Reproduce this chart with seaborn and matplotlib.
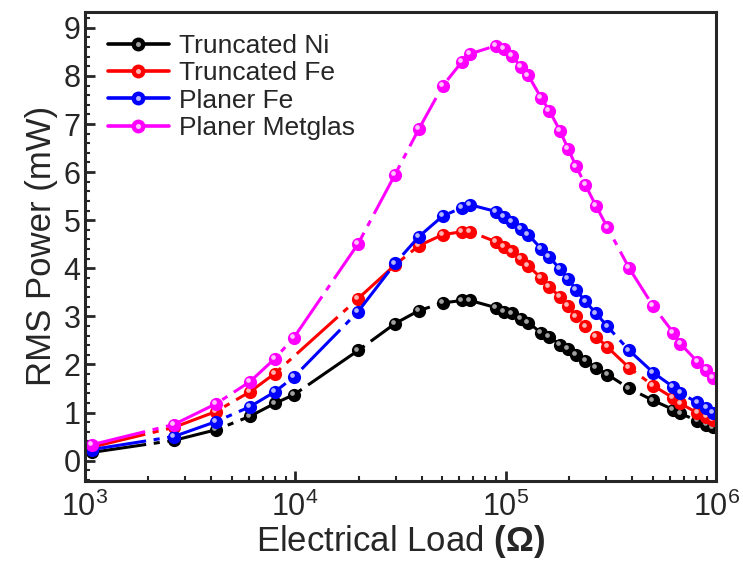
import matplotlib
matplotlib.use("Agg")
import matplotlib.pyplot as plt
import matplotlib.transforms as mtransforms
from matplotlib.lines import Line2D
from matplotlib.ticker import MultipleLocator, LogLocator, NullFormatter, FuncFormatter
from matplotlib import font_manager
import seaborn as sns
import numpy as np
import pandas as pd

# electrical load (ohm)
load = [1080, 2650, 4200, 6090, 8000, 9860, 19900, 29800, 38700, 50300,
        62100, 67800, 90000, 98000, 107000, 118000, 128000, 147000, 161000,
        181000, 198000, 216000, 239000, 269000, 304000, 386000, 502000,
        625000, 675000, 813000, 897000, 968000]

# RMS power (mW)
truncated_ni = [0.17, 0.42, 0.64, 0.92, 1.19, 1.37, 2.29, 2.85, 3.12, 3.28,
                3.33, 3.33, 3.18, 3.10, 3.06, 2.95, 2.87, 2.66, 2.58, 2.41,
                2.33, 2.20, 2.08, 1.93, 1.79, 1.50, 1.25, 1.06, 0.98, 0.83,
                0.75, 0.69]
truncated_fe = [0.28, 0.69, 1.02, 1.43, 1.81, np.nan, 3.37, 4.07, 4.47, 4.70,
                4.76, 4.76, 4.55, 4.45, 4.35, 4.20, 4.05, 3.80, 3.62, 3.40,
                3.21, 3.00, 2.79, 2.58, 2.36, 1.93, 1.56, 1.30, 1.19, 0.99,
                0.91, 0.84]
planer_fe = [0.23, 0.50, 0.81, 1.12, 1.43, 1.74, 3.10, 4.10, 4.66, 5.09,
             5.26, 5.32, 5.18, 5.07, 4.97, 4.82, 4.70, 4.41, 4.24, 3.98,
             3.78, 3.55, 3.31, 3.06, 2.79, 2.29, 1.83, 1.53, 1.40, 1.21,
             1.10, 1.00]
planer_metglas = [0.33, 0.75, 1.18, 1.64, 2.12, 2.56, 4.51, 5.95, 6.90, 7.80,
                  8.30, 8.46, 8.63, 8.57, 8.42, 8.19, 8.01, 7.55, 7.28, 6.86,
                  6.48, 6.12, 5.73, 5.29, 4.85, 4.00, 3.21, 2.66, 2.43, 2.06,
                  1.89, 1.72]

labels = ["Truncated Ni", "Truncated Fe", "Planer Fe", "Planer Metglas"]
colors = ["#000000", "#ff0000", "#0000ff", "#ff00ff"]
shine = ["#a0a0a0", "#ffb4b4", "#b4b4ff", "#ffc4ff"]

df = pd.DataFrame({"load": load,
                   "Truncated Ni": truncated_ni,
                   "Truncated Fe": truncated_fe,
                   "Planer Fe": planer_fe,
                   "Planer Metglas": planer_metglas})

installed = {f.name for f in font_manager.fontManager.ttflist}
tick_font = "Liberation Sans Narrow" if "Liberation Sans Narrow" in installed else "Liberation Sans"

sns.set_style("ticks")
plt.rcParams["font.family"] = ["Liberation Sans", "DejaVu Sans"]
plt.rcParams["mathtext.fontset"] = "custom"
plt.rcParams["mathtext.rm"] = tick_font
plt.rcParams["mathtext.it"] = tick_font
plt.rcParams["mathtext.bf"] = "Liberation Sans:bold"

fig = plt.figure(figsize=(7.43, 5.71), dpi=100)
ax = fig.add_axes([0.114, 0.158, 0.850, 0.821])

shift = mtransforms.offset_copy(ax.transData, fig=fig, x=-1.3, y=1.3, units="points")
dash = (0, (18, 2.5, 2, 2.5))
handles = []
for name, c, s in zip(labels, colors, shine):
    sub = df[["load", name]].dropna()
    sns.lineplot(x=sub["load"], y=sub[name], ax=ax, color=c, lw=2.2,
                 linestyle=dash, marker="o", markersize=9.5,
                 markeredgewidth=0, estimator=None, sort=False)
    ax.plot(sub["load"], sub[name], linestyle="none", marker="o", markersize=3.4,
            markerfacecolor=s, markeredgewidth=0, transform=shift)
    h1 = Line2D([], [], color=c, lw=2.6, marker="o", markersize=10, markeredgewidth=0)
    h2 = Line2D([], [], linestyle="none", marker="o", markersize=3.6,
                markerfacecolor=s, markeredgewidth=0)
    handles.append((h1, h2))

ax.set_xscale("log")
ax.set_xlim(1000, 1e6)
ax.set_ylim(-0.42, 9.33)
ax.yaxis.set_major_locator(MultipleLocator(1))
ax.yaxis.set_minor_locator(MultipleLocator(0.2))
ax.xaxis.set_major_locator(LogLocator(base=10))
ax.xaxis.set_major_formatter(FuncFormatter(lambda v, p: "$10^{%d}$" % round(np.log10(v))))
ax.xaxis.set_minor_locator(LogLocator(base=10, subs=np.arange(2, 10)))
ax.xaxis.set_minor_formatter(NullFormatter())

ax.tick_params(which="both", direction="in", top=False, right=False)
ax.tick_params(which="major", length=7, width=2, labelsize=22, pad=8)
ax.tick_params(which="minor", length=3.5, width=1.5)
ax.tick_params(axis="y", which="major", pad=3)
for lab in ax.get_yticklabels():
    lab.set_fontfamily(tick_font)
for sp in ax.spines.values():
    sp.set_linewidth(2.2)

ax.set_xlabel("Electrical Load $\\mathbf{(\\Omega)}$", fontsize=25, labelpad=0)
ax.set_ylabel("RMS Power (mW)", fontsize=25, labelpad=4)

ax.legend(handles, labels, loc="upper left", bbox_to_anchor=(0.02, 0.975),
          frameon=False, fontsize=19, handlelength=2.3, handletextpad=0.4,
          labelspacing=0.12, borderaxespad=0, numpoints=1)

fig.savefig("out.png", dpi=100)
